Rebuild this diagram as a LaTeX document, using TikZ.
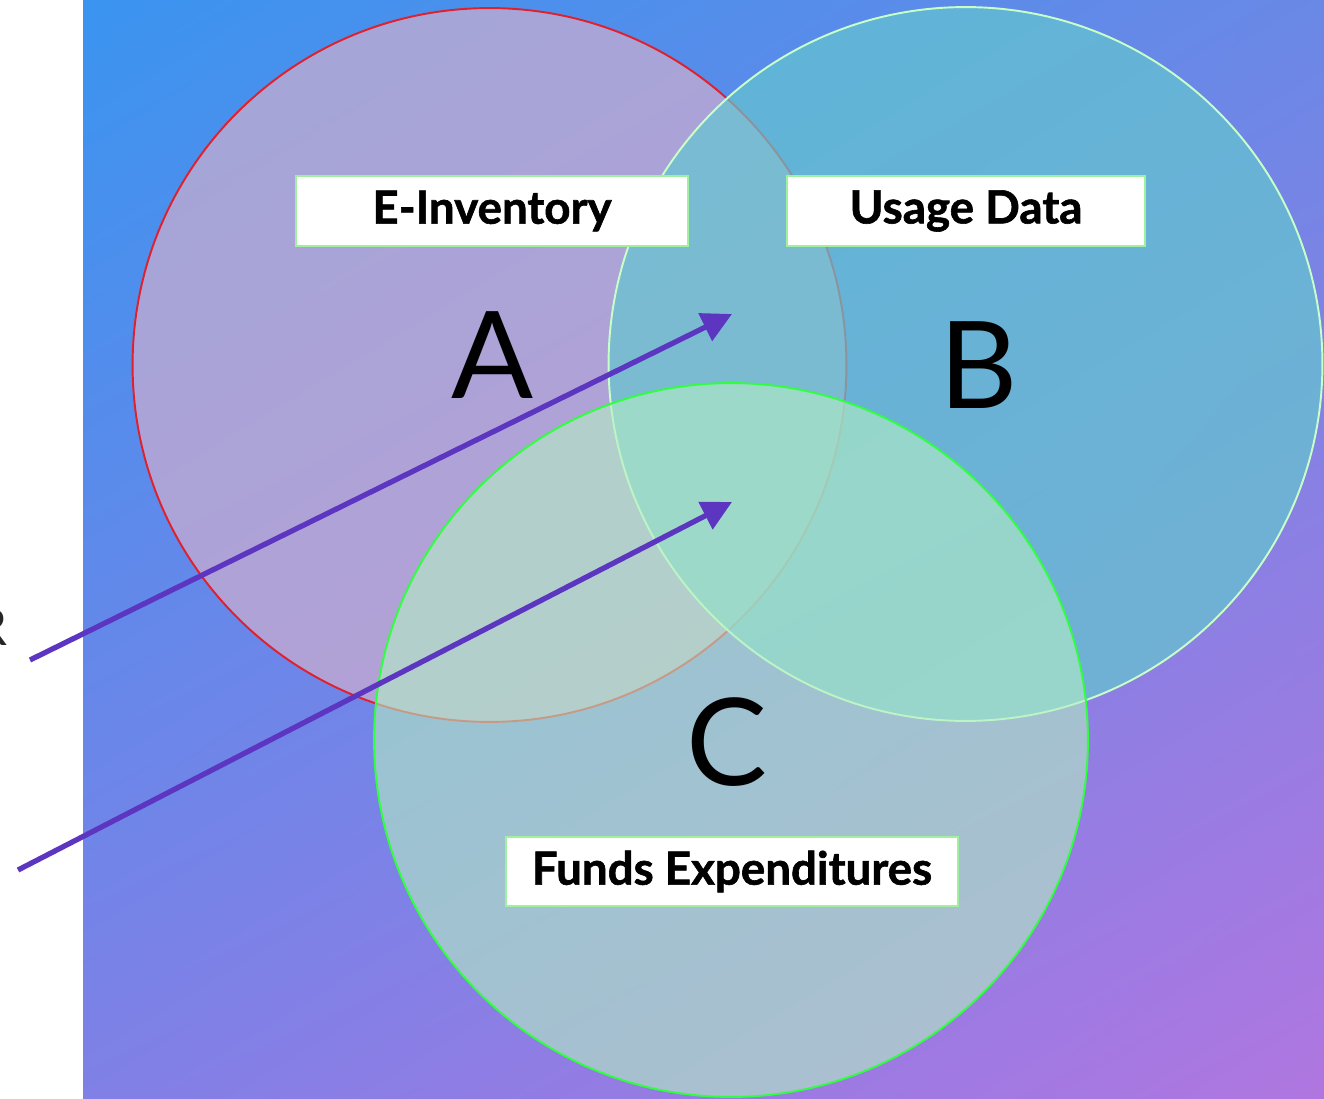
\documentclass[tikz,border=0pt]{standalone}
\usepackage{fontspec}
\setsansfont{Lato}
\newfontfamily\heavyfont{Lato}[BoldFeatures={FakeBold=1.3}]
\usetikzlibrary{arrows.meta,shadings}
\definecolor{bgTopLeft}{RGB}{58,148,240}
\definecolor{bgTopRight}{RGB}{106,136,230}
\definecolor{bgBottomLeft}{RGB}{128,128,230}
\definecolor{bgBottomRight}{RGB}{176,118,224}
\definecolor{setRed}{RGB}{224,32,44}
\definecolor{setPink}{RGB}{206,174,207}
\definecolor{setTeal}{RGB}{100,198,208}
\definecolor{setPale}{RGB}{200,255,200}
\definecolor{setMint}{RGB}{180,238,196}
\definecolor{setLime}{RGB}{48,255,64}
\definecolor{boxGreen}{RGB}{160,240,160}
\definecolor{pointerPurple}{RGB}{92,53,192}
\begin{document}
\begin{tikzpicture}[
        x=0.02cm, y=-0.02cm,
        % --- SET CIRCLES ---
        setcircle/.style={
            circle, inner sep=0pt,
            minimum size=14.28cm, line width=1.1pt
        },
        setA/.style={setcircle, draw=setRed, fill=setPink, fill opacity=0.7},
        setB/.style={setcircle, draw=setPale, fill=setTeal, fill opacity=0.7},
        setC/.style={setcircle, draw=setLime, fill=setMint, fill opacity=0.6},
        % --- LABEL BOXES ---
        setlabel/.style={
            rectangle, draw=boxGreen, line width=1.1pt, fill=white,
            minimum height=1.4cm, inner sep=0pt,
            font=\heavyfont\bfseries\fontsize{26}{30}\selectfont
        },
        % --- BIG LETTERS ---
        setletter/.style={
            anchor=base, inner sep=0pt,
            font=\sffamily\fontsize{69}{80}\selectfont
        },
        % --- ARROWS ---
        pointer/.style={
            draw=pointerPurple, line width=3pt,
            -{Triangle[length=17pt, width=17pt]}
        }
    ]

        % --- PAGE AND BACKGROUND ---
        \clip (0,0) rectangle (1324,1098);
        \fill[white] (0,0) rectangle (1324,1098);
        \shade[shading=bilinear interpolation,
               upper left=bgTopLeft, upper right=bgTopRight,
               lower left=bgBottomLeft, lower right=bgBottomRight]
            (83,0) rectangle (1324,1098);

        % --- THREE SETS ---
        \node[setA] (circA) at (489.5,365) {};
        \node[setB] (circB) at (965.5,364) {};
        \node[setC] (circC) at (731,740) {};

        % --- LETTERS ---
        \node[setletter] (letA) at (493,398) {A};
        \node[setletter] (letB) at (979,408) {B};
        \node[setletter] (letC) at (727,785) {C};

        % --- NAMES OF THE SETS ---
        \node[setlabel, minimum width=7.84cm] (labA) at (492,211) {E-Inventory};
        \node[setlabel, minimum width=7.16cm] (labB) at (966,211) {Usage Data};
        \node[setlabel, minimum width=9.04cm, minimum height=1.38cm] (labC) at (732,871.5) {Funds Expenditures};

        % --- CUT-OFF TEXT AT THE LEFT ---
        \node[anchor=base east, inner sep=0pt, text=black!85,
              font=\sffamily\fontsize{29}{34}\selectfont] (cutR) at (8,645) {R};

        % --- POINTERS ---
        \coordinate (tailAB) at (30,660);
        \coordinate (tipAB) at (732,314);
        \coordinate (tailABC) at (18,870);
        \coordinate (tipABC) at (732,502);
        \draw[pointer] (tailAB) -- (tipAB);
        \draw[pointer] (tailABC) -- (tipABC);

    \end{tikzpicture}
\end{document}
